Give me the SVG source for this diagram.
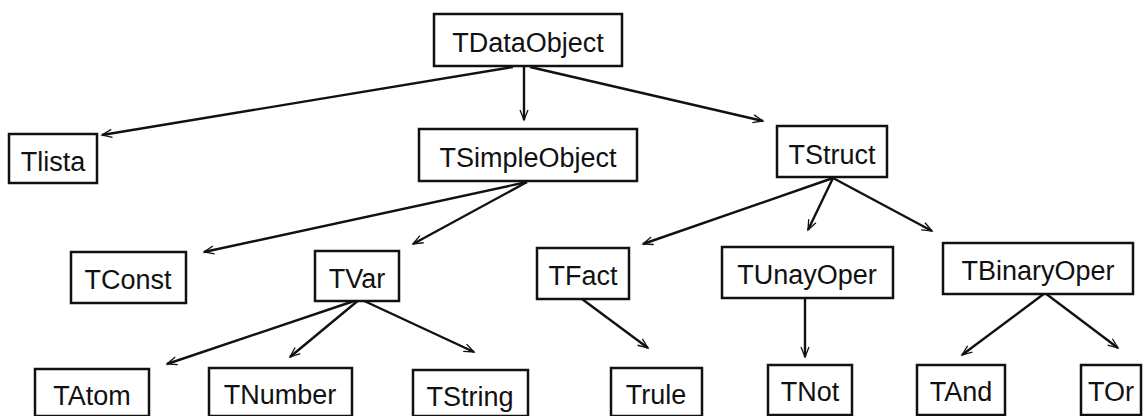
<svg xmlns="http://www.w3.org/2000/svg" width="1147" height="416" viewBox="0 0 1147 416">
<style>
.box{fill:#fff;stroke:#111;stroke-width:2.5}
.lbl{font-family:"Liberation Sans",Arial,sans-serif;font-size:27px;fill:#111;text-anchor:middle}
.edge{fill:none;stroke:#111;stroke-width:2.4;marker-end:url(#ah)}
</style>
<defs>
<marker id="ah" markerUnits="userSpaceOnUse" markerWidth="14" markerHeight="12" refX="11" refY="6" orient="auto">
<path d="M1,2 L11,6 L1,10 M2,6 L11,6" fill="none" stroke="#111" stroke-width="1.3"/>
</marker>
</defs>
<g id="connectors">
<line class="edge" x1="513" y1="67" x2="102" y2="135"/>
<line class="edge" x1="524" y1="67" x2="524" y2="120"/>
<line class="edge" x1="530" y1="67" x2="763" y2="121"/>
<line class="edge" x1="527" y1="182" x2="204" y2="252"/>
<line class="edge" x1="527" y1="182" x2="413" y2="244"/>
<line class="edge" x1="833" y1="178" x2="643" y2="244"/>
<line class="edge" x1="833" y1="178" x2="808" y2="230"/>
<line class="edge" x1="833" y1="178" x2="932" y2="231"/>
<line class="edge" x1="360" y1="299" x2="167" y2="364"/>
<line class="edge" x1="360" y1="299" x2="290" y2="357"/>
<line class="edge" x1="360" y1="299" x2="474" y2="352"/>
<line class="edge" x1="582" y1="299" x2="648" y2="348"/>
<line class="edge" x1="805" y1="297" x2="805" y2="357"/>
<line class="edge" x1="1045" y1="293" x2="962" y2="355"/>
<line class="edge" x1="1045" y1="293" x2="1118" y2="348"/>
</g>
<g id="TDataObject"><rect class="box" x="434" y="14" width="188" height="52"/><text class="lbl" x="528" y="52">TDataObject</text></g>
<g id="Tlista"><rect class="box" x="9" y="134" width="88" height="49"/><text class="lbl" x="53" y="171">Tlista</text></g>
<g id="TSimpleObject"><rect class="box" x="419" y="129" width="218" height="52"/><text class="lbl" x="528" y="167">TSimpleObject</text></g>
<g id="TStruct"><rect class="box" x="777" y="126" width="110" height="51"/><text class="lbl" x="832" y="164">TStruct</text></g>
<g id="TConst"><rect class="box" x="71" y="252" width="115" height="51"/><text class="lbl" x="128" y="289">TConst</text></g>
<g id="TVar"><rect class="box" x="315" y="251" width="84" height="50"/><text class="lbl" x="357" y="288">TVar</text></g>
<g id="TFact"><rect class="box" x="537" y="248" width="92" height="51"/><text class="lbl" x="583" y="285">TFact</text></g>
<g id="TUnayOper"><rect class="box" x="722" y="247" width="171" height="51"/><text class="lbl" x="807" y="284">TUnayOper</text></g>
<g id="TBinaryOper"><rect class="box" x="943" y="243" width="190" height="51"/><text class="lbl" x="1038" y="280">TBinaryOper</text></g>
<g id="TAtom"><rect class="box" x="35" y="369" width="114" height="47"/><text class="lbl" x="92" y="405">TAtom</text></g>
<g id="TNumber"><rect class="box" x="209" y="368" width="143" height="48"/><text class="lbl" x="280" y="404">TNumber</text></g>
<g id="TString"><rect class="box" x="413" y="370" width="115" height="46"/><text class="lbl" x="470" y="406">TString</text></g>
<g id="Trule"><rect class="box" x="611" y="368" width="91" height="48"/><text class="lbl" x="656" y="404">Trule</text></g>
<g id="TNot"><rect class="box" x="768" y="365" width="84" height="50"/><text class="lbl" x="810" y="401">TNot</text></g>
<g id="TAnd"><rect class="box" x="917" y="365" width="88" height="50"/><text class="lbl" x="961" y="401">TAnd</text></g>
<g id="TOr"><rect class="box" x="1081" y="365" width="60" height="50"/><text class="lbl" x="1111" y="401">TOr</text></g>
</svg>
